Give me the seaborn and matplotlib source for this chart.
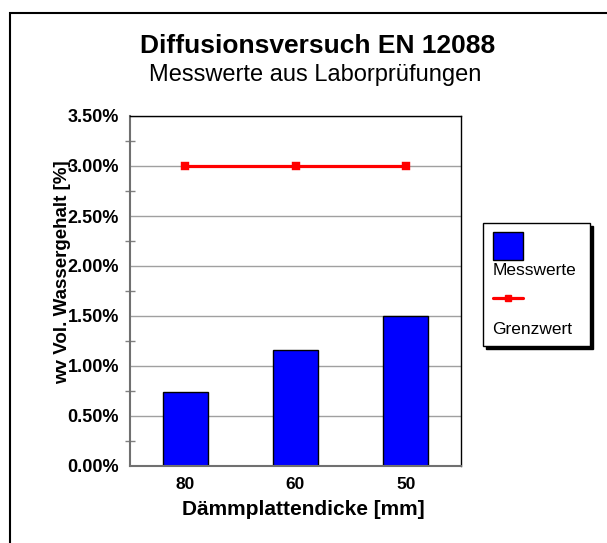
import matplotlib
matplotlib.use("Agg")
import matplotlib.pyplot as plt
import matplotlib.patches as mpatches
from matplotlib.lines import Line2D
from matplotlib.legend_handler import HandlerPatch
from matplotlib.ticker import MultipleLocator, PercentFormatter
import seaborn as sns
import pandas as pd

# ---- data ----
categories = ["80", "60", "50"]
messwerte = [0.0074, 0.0116, 0.0150]
grenzwert = [0.030, 0.030, 0.030]
title = "Diffusionsversuch EN 12088"
subtitle = "Messwerte aus Laborprüfungen"
xlabel = "Dämmplattendicke [mm]"
ylabel = "wv Vol. Wassergehalt [%]"
legend_labels = ["Messwerte", "Grenzwert"]

sns.set_style("white")
plt.rcParams["font.family"] = ["Liberation Sans", "DejaVu Sans"]
plt.rcParams["text.color"] = "black"
plt.rcParams["axes.labelcolor"] = "black"
plt.rcParams["xtick.color"] = "black"
plt.rcParams["ytick.color"] = "black"

W, H = 607, 543
fig = plt.figure(figsize=(W / 100, H / 100), dpi=100)
ax = fig.add_axes([130 / W, 1 - 466 / H, 331 / W, 350 / H])

df = pd.DataFrame({"dicke": categories, "mess": messwerte, "grenz": grenzwert})

sns.barplot(data=df, x="dicke", y="mess", order=categories, color="#0000FF",
            saturation=1, width=0.405, edgecolor="black", linewidth=1, ax=ax)
sns.pointplot(data=df, x="dicke", y="grenz", order=categories, color="#FF0000",
              markers="s", markersize=4, linewidth=2.3, ax=ax)

ax.set_xlim(-0.5, 2.5)
ax.set_ylim(0, 0.035)
ax.yaxis.set_major_locator(MultipleLocator(0.005))
ax.yaxis.set_minor_locator(MultipleLocator(0.0025))
ax.yaxis.set_major_formatter(PercentFormatter(xmax=1, decimals=2))

ax.grid(axis="y", which="major", color="#a0a0a0", linewidth=1)
ax.set_axisbelow(True)

for s in ["left", "bottom"]:
    ax.spines[s].set_color("#707070")
    ax.spines[s].set_linewidth(1.5)
for s in ["top", "right"]:
    ax.spines[s].set_color("black")
    ax.spines[s].set_linewidth(1)

ax.tick_params(axis="y", which="major", direction="out", length=5, width=1,
               color="#a0a0a0", pad=3, labelsize=13, labelcolor="black")
ax.tick_params(axis="y", which="minor", direction="inout", length=7, width=1,
               color="#808080", left=True)
ax.tick_params(axis="x", which="major", direction="out", length=4, width=1,
               color="#808080", pad=4, labelsize=12.5, labelcolor="black")
for lab in ax.get_xticklabels() + ax.get_yticklabels():
    lab.set_fontweight("bold")

ax.set_xlabel(xlabel, fontsize=15, fontweight="bold", color="black")
ax.set_ylabel(ylabel, fontsize=13.5, fontweight="bold", color="black")
ax.xaxis.set_label_coords((303 - 130) / 331, (466 - 500) / 350)
ax.yaxis.set_label_coords((71 - 130) / 331, (466 - 272) / 350)

fig.text(318 / W, 1 - 46 / H, title, ha="center", va="center",
         fontsize=19, fontweight="bold", color="black")
fig.text(315 / W, 1 - 75 / H, subtitle, ha="center", va="center",
         fontsize=17, color="black")


# legend: square patch (larger than the row) with the label on the row below
def big_square(legend, orig_handle, xdescent, ydescent, width, height, fontsize):
    side = 20.0  # points
    return mpatches.Rectangle(
        (-xdescent, -ydescent - (side - height - ydescent) / 2 - 4.5), width, side)


handles = [
    mpatches.Patch(facecolor="#0000FF", edgecolor="black", linewidth=1),
    mpatches.Patch(color="none"),
    Line2D([], [], color="#FF0000", lw=2.3, marker="s", markersize=4.5),
    mpatches.Patch(color="none"),
]
labels = ["", legend_labels[0], "", legend_labels[1]]
leg = fig.legend(handles, labels, loc="upper left",
                 bbox_to_anchor=(483 / W, 1 - 223 / H - 0.01, 107 / W, 0.01),
                 bbox_transform=fig.transFigure, mode="expand", borderaxespad=0,
                 fontsize=12.5, handlelength=1.75, handleheight=1.0,
                 handletextpad=-1.75, labelspacing=0.72, borderpad=0.55,
                 frameon=True, fancybox=False, edgecolor="black",
                 shadow={"color": "black", "alpha": 1},
                 handler_map={handles[0]: HandlerPatch(patch_func=big_square)})
leg.get_frame().set_linewidth(1)

fig.add_artist(mpatches.Rectangle((10 / W, -0.05), 1.2, 1 - 13 / H + 0.05,
                                  transform=fig.transFigure, fill=False,
                                  edgecolor="black", linewidth=1.5))

fig.savefig("out.png", dpi=100, facecolor="white")
